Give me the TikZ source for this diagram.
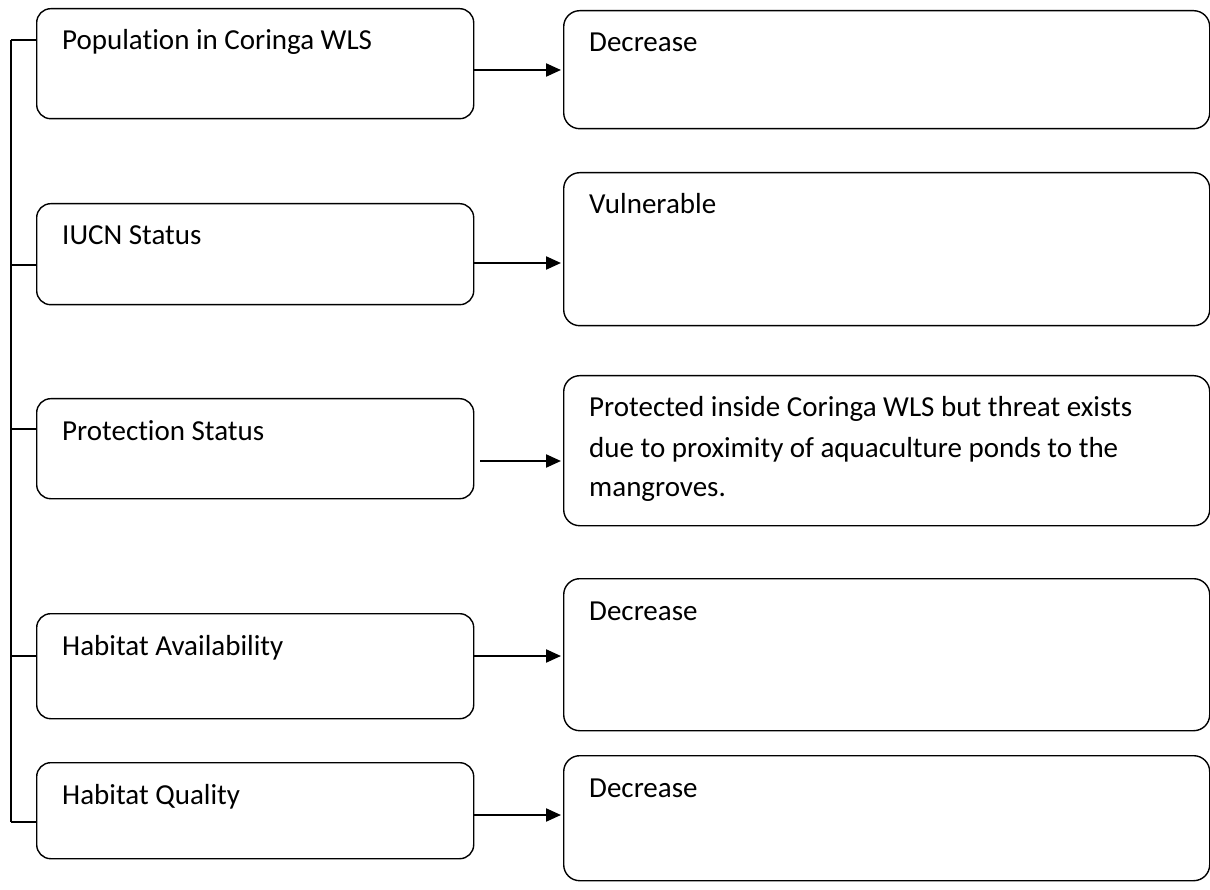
\documentclass[tikz,border=0pt]{standalone}
\usepackage{fontspec}
\setmainfont[RawFeature={-liga;-clig;-calt;-dlig;-rlig}]{Carlito}
\usetikzlibrary{arrows.meta,positioning,calc}
\tikzset{
  leftbox/.style={
    draw=black, line width=1.4pt, rounded corners=14pt,
    minimum width=437pt, minimum height=#1, inner sep=0pt,
    anchor=north west
  },
  rightbox/.style={
    draw=black, line width=1.4pt, rounded corners=16pt,
    minimum width=646pt, minimum height=#1, inner sep=0pt,
    anchor=north west
  },
  boxtext/.style={
    anchor=base west, inner sep=0pt, xshift=26pt, yshift=-42pt,
    font=\fontsize{29}{40}\selectfont
  },
  wrapped/.style={boxtext, text width=630pt, align=flush left},
  spine/.style={draw=black, line width=1.4pt},
  flow/.style={draw=black, line width=2.2pt, ->, shorten >=2pt}
}

\begin{document}
\begin{tikzpicture}[x=1pt,y=-1pt,>={Triangle[length=15pt,width=13pt]}]
  \useasboundingbox (0,0) rectangle (1210,890);
  % criteria
  \foreach \nm/\yt/\hgt/\txt in {pop/8/110/Population in Coringa WLS,
      iucn/203/101/IUCN Status, prot/398/100/Protection Status,
      avail/613/105/Habitat Availability, qual/762/96/Habitat Quality}
    \node[leftbox=\hgt pt, label={[boxtext]north west:\txt}] (\nm) at (36,\yt) {};
  % assessments
  \foreach \nm/\yt/\hgt/\txt in {dec/10/118/Decrease, vul/172/153/Vulnerable,
      thr/375/150/{Protected inside Coringa WLS but threat exists\\due to proximity of aquaculture ponds to the\\mangroves.},
      decA/578/152/Decrease, decB/755/125/Decrease}
    \node[rightbox=\hgt pt, label={[wrapped]north west:\txt}] (\nm) at (563,\yt) {};
  % bracket on the left
  \foreach \nm/\yy in {pop/40, iucn/265, prot/429, avail/656, qual/822} {
    \coordinate (s-\nm) at (11,\yy);
    \draw[spine] (s-\nm) -- (s-\nm -| \nm.west);
  }
  \draw[spine] (s-pop) -- (s-qual);
  % arrows
  \foreach \a/\b/\yy/\gap in {pop/dec/70/0, iucn/vul/263/0, prot/thr/461/6,
      avail/decA/656/0, qual/decB/815/0}
    \draw[flow] ([xshift=\gap pt]\a.east |- 0,\yy) -- (\b.west |- 0,\yy);
\end{tikzpicture}
\end{document}
